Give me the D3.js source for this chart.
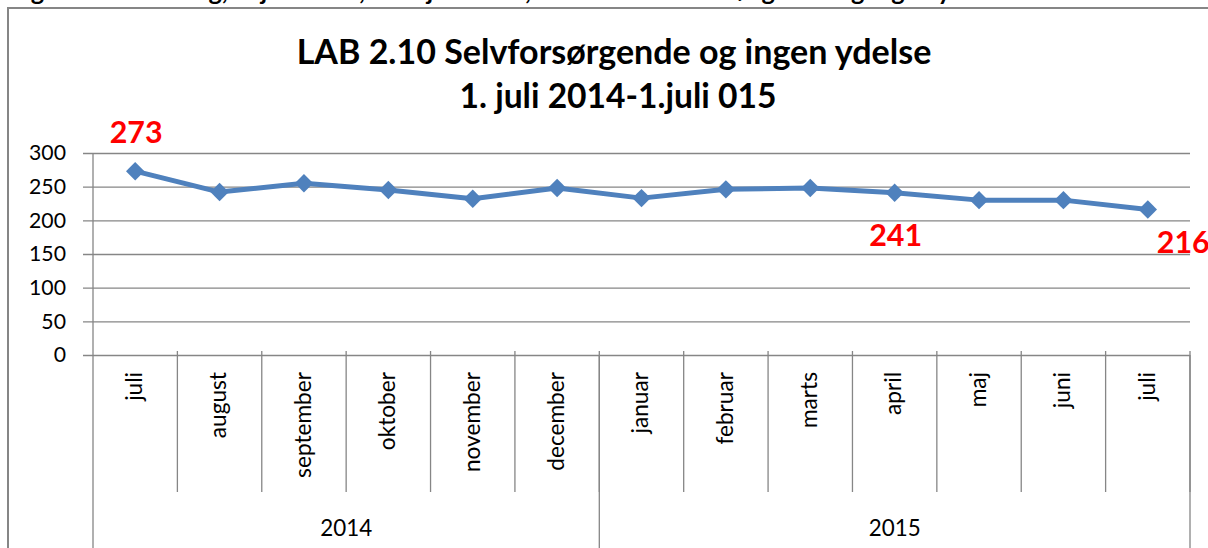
<!DOCTYPE html>
<html lang="da">
<head>
<meta charset="UTF-8">
<script src="https://d3js.org/d3.v7.min.js"></script>
<title>LAB 2.10 Selvforsørgende og ingen ydelse</title>
<style>
  body { margin: 0; background: #fff; }
  text { font-family: Lato, "Open Sans", sans-serif; }
</style>
</head>
<body>
<div id="chart"></div>
<script>
// data
const months = ["juli", "august", "september", "oktober", "november", "december",
                "januar", "februar", "marts", "april", "maj", "juni", "juli"];
const years = ["2014", "2015"];
const yearMonths = [6, 7];          // how many months fall in each year group
const values = [273, 242, 255, 245, 232, 248, 233, 246, 248, 241, 230, 230, 216];
const labelled = [0, 9, 12];        // points that carry a red data label
const yTicks = [0, 50, 100, 150, 200, 250, 300];
const title1 = "LAB 2.10 Selvforsørgende og ingen ydelse";
const title2 = "1. juli 2014-1.juli 015";
const caption = "Figur 11: Udvikling, 1. juli 2014, til 1. juli 2015, LAB 2.10 Selvforsørgende og ingen ydelse";

const width = 1208, height = 548;
const plotL = 93, plotR = 1190, plotT = 153, plotB = 355;
const grey = "#868686", blue = "#4F81BD";

const svg = d3.select("#chart").append("svg")
    .attr("width", width).attr("height", height);

// scale the font so that a text gets a given width
function fit(sel, target) {
    const fs = parseFloat(sel.attr("font-size"));
    const len = sel.node().getComputedTextLength();
    sel.attr("font-size", fs * target / len);
    return fs * target / len;
}

// caption of the page, cut off at the top edge (only descenders show)
svg.append("text").attr("x", 10).attr("y", 0)
    .attr("font-size", 20).attr("font-weight", "bold").text(caption)
    .call(fit, 1000);

// chart frame (runs off the right and bottom)
svg.append("rect").attr("x", 8).attr("y", 8)
    .attr("width", 1400).attr("height", 700)
    .attr("fill", "none").attr("stroke", grey).attr("stroke-width", 2);

// title
svg.append("text").attr("x", 614).attr("y", 64).attr("text-anchor", "middle")
    .attr("font-size", 30).attr("font-weight", "bold").text(title1)
    .call(fit, 635);
svg.append("text").attr("x", 618).attr("y", 108).attr("text-anchor", "middle")
    .attr("font-size", 30).attr("font-weight", "bold").text(title2)
    .call(fit, 317);

// scales
const x = d3.scaleBand().domain(d3.range(months.length)).range([plotL, plotR]).padding(0);
const y = d3.scaleLinear().domain([0, 300]).range([plotB, plotT]);

// gridlines + y tick marks + tick labels in one axis
const yAxis = svg.append("g")
    .attr("transform", `translate(${plotR},0)`)
    .call(d3.axisLeft(y).tickValues(yTicks).tickSize(plotR - 83).tickPadding(17));
yAxis.select(".domain").remove();
yAxis.selectAll(".tick line").attr("stroke", grey).attr("stroke-width", 1.3);
yAxis.selectAll(".tick text").attr("fill", "#000")
    .attr("font-size", 21).style("font-family", "Lato, sans-serif");
const t300 = yAxis.selectAll(".tick text").filter(d => d === 300);
const yfs = fit(t300, 37);
yAxis.selectAll(".tick text").attr("font-size", yfs);

// vertical axis line
svg.append("line").attr("x1", plotL).attr("x2", plotL)
    .attr("y1", plotT).attr("y2", height)
    .attr("stroke", grey).attr("stroke-width", 1.3);

// month dividers
const bounds = d3.range(months.length).map(i => x(i)).concat([x.range()[1]]);
svg.append("g").selectAll("line").data(bounds.slice(1)).join("line")
    .attr("x1", d => d).attr("x2", d => d)
    .attr("y1", plotB - 4).attr("y2", 492)
    .attr("stroke", grey).attr("stroke-width", 1.3);

// year dividers
let acc = 0;
const yearBounds = [x(0)];
const yearMid = [];
yearMonths.forEach(n => {
    const a = x(acc);
    acc += n;
    const b = acc < months.length ? x(acc) : x.range()[1];
    yearBounds.push(b);
    yearMid.push((a + b) / 2);
});
svg.append("g").selectAll("line").data(yearBounds.slice(1)).join("line")
    .attr("x1", d => d).attr("x2", d => d)
    .attr("y1", plotB).attr("y2", height)
    .attr("stroke", grey).attr("stroke-width", 1.3);

// month labels, rotated
const mLabels = svg.append("g").selectAll("text").data(months).join("text")
    .attr("transform", (d, i) => `translate(${x(i) + x.bandwidth() / 2},372) rotate(-90)`)
    .attr("text-anchor", "end").attr("dy", "0.3em")
    .attr("font-size", 21).text(d => d);
const mfs = fit(mLabels.filter((d, i) => i === 2), 106);
mLabels.attr("font-size", mfs);

// year labels
const yLabels = svg.append("g").selectAll("text").data(years).join("text")
    .attr("x", (d, i) => yearMid[i]).attr("y", 536)
    .attr("text-anchor", "middle").attr("font-size", 21).text(d => d);
const yrfs = fit(yLabels.filter((d, i) => i === 0), 52);
yLabels.attr("font-size", yrfs);

// line
const line = d3.line().x((d, i) => x(i) + x.bandwidth() / 2).y(d => y(d));
svg.append("path").datum(values)
    .attr("d", line).attr("fill", "none")
    .attr("stroke", blue).attr("stroke-width", 5).attr("stroke-linejoin", "round");

// diamond markers
const diamond = d3.symbol().type(d3.symbolSquare).size(170);
svg.append("g").selectAll("path").data(values).join("path")
    .attr("d", diamond)
    .attr("transform", (d, i) => `translate(${x(i) + x.bandwidth() / 2},${y(d)}) rotate(45)`)
    .attr("fill", blue);

// red data labels, placed by hand as in the original
const labelPos = { 0: [1, -28, "middle"], 9: [1, 53, "middle"], 12: [9, 43, "start"] };
const dl = svg.append("g").selectAll("text").data(labelled).join("text")
    .attr("x", i => x(i) + x.bandwidth() / 2 + labelPos[i][0])
    .attr("y", i => y(values[i]) + labelPos[i][1])
    .attr("text-anchor", i => labelPos[i][2])
    .attr("font-size", 30).attr("font-weight", "bold").attr("fill", "#FF0000")
    .text(i => values[i]);
const dfs = fit(dl.filter(i => i === 0), 53);
dl.attr("font-size", dfs);
</script>
</body>
</html>
